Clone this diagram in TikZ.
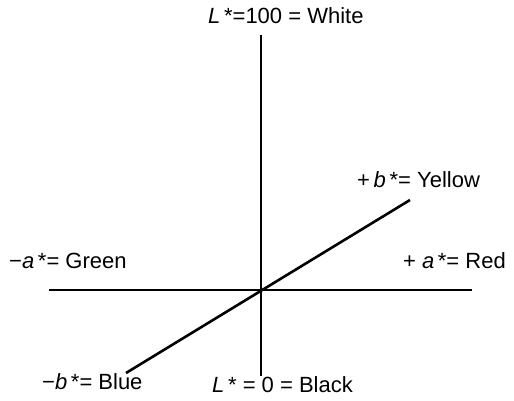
\documentclass[tikz,border=0pt]{standalone}
\usepackage{fontspec}
\setmainfont{Liberation Sans}
\usetikzlibrary{positioning}

\begin{document}
\begin{tikzpicture}[x=1pt,y=1pt,font=\fontsize{22}{24}\selectfont,axis/.style={line width=2.6pt},lbl/.style={inner sep=0pt}]
\useasboundingbox (0,0) rectangle (514,400);
\coordinate (o) at (261,110);
\coordinate (ltop) at (261,365);
\coordinate (lbot) at (261,24);
\coordinate (aneg) at (49,110);
\coordinate (apos) at (472,110);
\coordinate (bneg) at (126,27);
\coordinate (bpos) at (410,200);
\node[lbl,anchor=west] (white) at (208,384) {\textit{L}\,*=100 = White};
\node[lbl,anchor=west] (yellow) at (357,220) {+\,\textit{b}\,*= Yellow};
\node[lbl,anchor=west] (green) at (9,139) {−\textit{a}\,*= Green};
\node[lbl,anchor=east] (red) at (506,139) {+ \textit{a}\,*= Red};
\node[lbl,anchor=west] (blue) at (42,18) {−\textit{b}\,*= Blue};
\node[lbl,anchor=west] (black) at (212,15) {\textit{L}\,* = 0 = Black};
\draw[axis] (ltop) -- (lbot);
\draw[axis] (aneg) -- (apos);
\draw[axis] (bneg) -- (bpos);
\end{tikzpicture}
\end{document}
